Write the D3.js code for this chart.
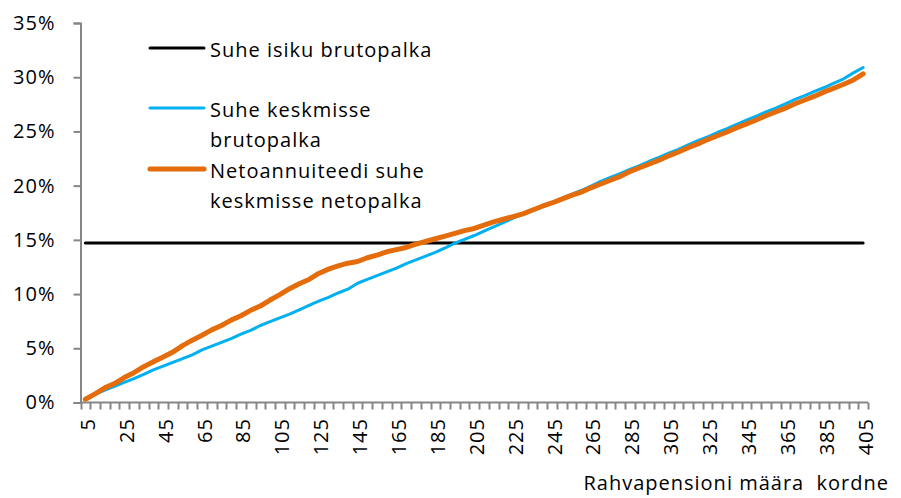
<!DOCTYPE html>
<html>
<head>
<meta charset="utf-8">
<script src="https://cdn.jsdelivr.net/npm/d3@7"></script>
<style>
  body { margin: 0; background: #fff; }
  text { font-family: "Open Sans", Lato, sans-serif; fill: #000; letter-spacing: 1px; }
</style>
</head>
<body>
<div id="chart"></div>
<script>
var width = 901
var height = 498

// categories: multiples of the people's pension rate, 5..405 step 5
var kordne = d3.range(5, 410, 5)

// constant ratio to the person's own gross wage (%)
var isikuBruto = [
  14.7, 14.7, 14.7, 14.7, 14.7, 14.7, 14.7, 14.7, 14.7, 14.7, 14.7, 14.7, 14.7, 14.7, 14.7, 14.7, 14.7, 14.7, 14.7, 14.7,
  14.7, 14.7, 14.7, 14.7, 14.7, 14.7, 14.7, 14.7, 14.7, 14.7, 14.7, 14.7, 14.7, 14.7, 14.7, 14.7, 14.7, 14.7, 14.7, 14.7,
  14.7, 14.7, 14.7, 14.7, 14.7, 14.7, 14.7, 14.7, 14.7, 14.7, 14.7, 14.7, 14.7, 14.7, 14.7, 14.7, 14.7, 14.7, 14.7, 14.7,
  14.7, 14.7, 14.7, 14.7, 14.7, 14.7, 14.7, 14.7, 14.7, 14.7, 14.7, 14.7, 14.7, 14.7, 14.7, 14.7, 14.7, 14.7, 14.7, 14.7,
  14.7
]

// ratio to the average gross wage (%)
var keskmineBruto = [
  0.3, 0.75, 1.15, 1.5, 1.85, 2.2, 2.6, 3.0, 3.35, 3.7,
  4.05, 4.4, 4.85, 5.2, 5.55, 5.9, 6.3, 6.65, 7.1, 7.45,
  7.8, 8.15, 8.55, 8.95, 9.35, 9.7, 10.1, 10.45, 11.0, 11.35,
  11.7, 12.05, 12.4, 12.8, 13.15, 13.5, 13.85, 14.25, 14.7, 15.05,
  15.4, 15.8, 16.2, 16.6, 17.0, 17.35, 17.7, 18.05, 18.45, 18.8,
  19.2, 19.55, 19.95, 20.4, 20.75, 21.1, 21.5, 21.85, 22.25, 22.6,
  23.0, 23.35, 23.75, 24.15, 24.5, 24.9, 25.25, 25.65, 26.05, 26.4,
  26.8, 27.15, 27.55, 27.95, 28.3, 28.7, 29.05, 29.45, 29.85, 30.4,
  30.9
]

// net annuity relative to the average net wage (%)
var netoSuhe = [
  0.3, 0.8, 1.35, 1.75, 2.3, 2.75, 3.3, 3.75, 4.2, 4.65,
  5.25, 5.75, 6.2, 6.7, 7.1, 7.6, 8.0, 8.5, 8.9, 9.45,
  9.95, 10.5, 10.95, 11.35, 11.9, 12.3, 12.6, 12.85, 13.0, 13.35,
  13.6, 13.9, 14.1, 14.3, 14.6, 14.85, 15.1, 15.35, 15.6, 15.85,
  16.05, 16.35, 16.65, 16.9, 17.15, 17.4, 17.75, 18.1, 18.4, 18.75,
  19.1, 19.4, 19.8, 20.15, 20.5, 20.85, 21.3, 21.65, 22.0, 22.35,
  22.75, 23.1, 23.5, 23.85, 24.25, 24.6, 24.95, 25.35, 25.7, 26.05,
  26.45, 26.8, 27.15, 27.55, 27.9, 28.25, 28.65, 29.0, 29.35, 29.75,
  30.3
]

var yTicks = [0, 5, 10, 15, 20, 25, 30, 35]

var seeriad = [
  {nimi: ["Suhe isiku brutopalka"], values: isikuBruto, color: "#000000", w: 3, ly: 48},
  {nimi: ["Suhe keskmisse", "brutopalka"], values: keskmineBruto, color: "#00B0F0", w: 3, ly: 108},
  {nimi: ["Netoannuiteedi suhe", "keskmisse netopalka"], values: netoSuhe, color: "#E46C0A", w: 5, ly: 169}
]

var svg = d3.select("#chart")
    .append("svg")
    .attr("width", width)
    .attr("height", height)

var x = d3.scaleBand()
    .domain(kordne)
    .range([80.5, 868])
    .padding(0)

var y = d3.scaleLinear()
    .domain([0, 35])
    .range([402.5, 23])

var axisColor = "#868686"
var fs = "20px"

// y axis
var yAxis = svg.append("g")
    .attr("transform", "translate(80.5,0)")
    .call(d3.axisLeft(y).tickValues(yTicks).tickSize(7).tickPadding(18)
        .tickFormat(function(d){ return d + "%" }))
yAxis.select(".domain").attr("stroke", axisColor).attr("stroke-width", 2)
yAxis.selectAll(".tick line").attr("stroke", axisColor).attr("stroke-width", 2)
yAxis.selectAll(".tick text")
    .style("font-size", fs)
    .attr("font-family", null)
    .attr("fill", "#000")

// x axis: ticks between categories, labels every 4th category
var xg = svg.append("g")
xg.append("line")
    .attr("x1", x.range()[0]).attr("x2", x.range()[1])
    .attr("y1", y(0)).attr("y2", y(0))
    .attr("stroke", axisColor).attr("stroke-width", 2)

var boundaries = kordne.map(function(d){ return x(d) }).concat([x.range()[1]])
xg.selectAll(".xt")
    .data(boundaries)
    .enter()
    .append("line")
    .attr("x1", function(d){ return Math.round(d) + 0.5 })
    .attr("x2", function(d){ return Math.round(d) + 0.5 })
    .attr("y1", y(0))
    .attr("y2", y(0) + 7)
    .attr("stroke", axisColor)
    .attr("stroke-width", 2)

xg.selectAll(".xl")
    .data(kordne.filter(function(d, i){ return i % 4 === 0 }))
    .enter()
    .append("text")
    .attr("transform", function(d){
        return "translate(" + (x(d) + x.bandwidth() / 2 + 2) + "," + 418 + ") rotate(-90)"
    })
    .attr("text-anchor", "end")
    .attr("dominant-baseline", "central")
    .style("font-size", fs)
    .text(function(d){ return d })

svg.append("text")
    .attr("x", 889)
    .attr("y", 490)
    .attr("text-anchor", "end")
    .style("font-size", fs)
    .style("white-space", "pre")
    .text("Rahvapensioni määra  kordne")

// lines
var line = d3.line()
    .x(function(d, i){ return x(kordne[i]) + x.bandwidth() / 2 })
    .y(function(d){ return y(d) })

svg.selectAll(".series")
    .data(seeriad)
    .enter()
    .append("path")
    .attr("d", function(s){ return line(s.values) })
    .attr("fill", "none")
    .attr("stroke", function(s){ return s.color })
    .attr("stroke-width", function(s){ return s.w })
    .attr("stroke-linejoin", "round")
    .attr("stroke-linecap", "round")

// legend
var leg = svg.selectAll(".leg")
    .data(seeriad)
    .enter()
    .append("g")

leg.append("line")
    .attr("x1", 150).attr("x2", 204)
    .attr("y1", function(s){ return s.ly }).attr("y2", function(s){ return s.ly })
    .attr("stroke", function(s){ return s.color })
    .attr("stroke-width", function(s){ return s.w })
    .attr("stroke-linecap", "round")

leg.each(function(s){
    var g = d3.select(this)
    s.nimi.forEach(function(t, k){
        g.append("text")
            .attr("x", 210)
            .attr("y", s.ly + 9 + k * 30)
            .style("font-size", fs)
            .text(t)
    })
})
</script>
</body>
</html>
